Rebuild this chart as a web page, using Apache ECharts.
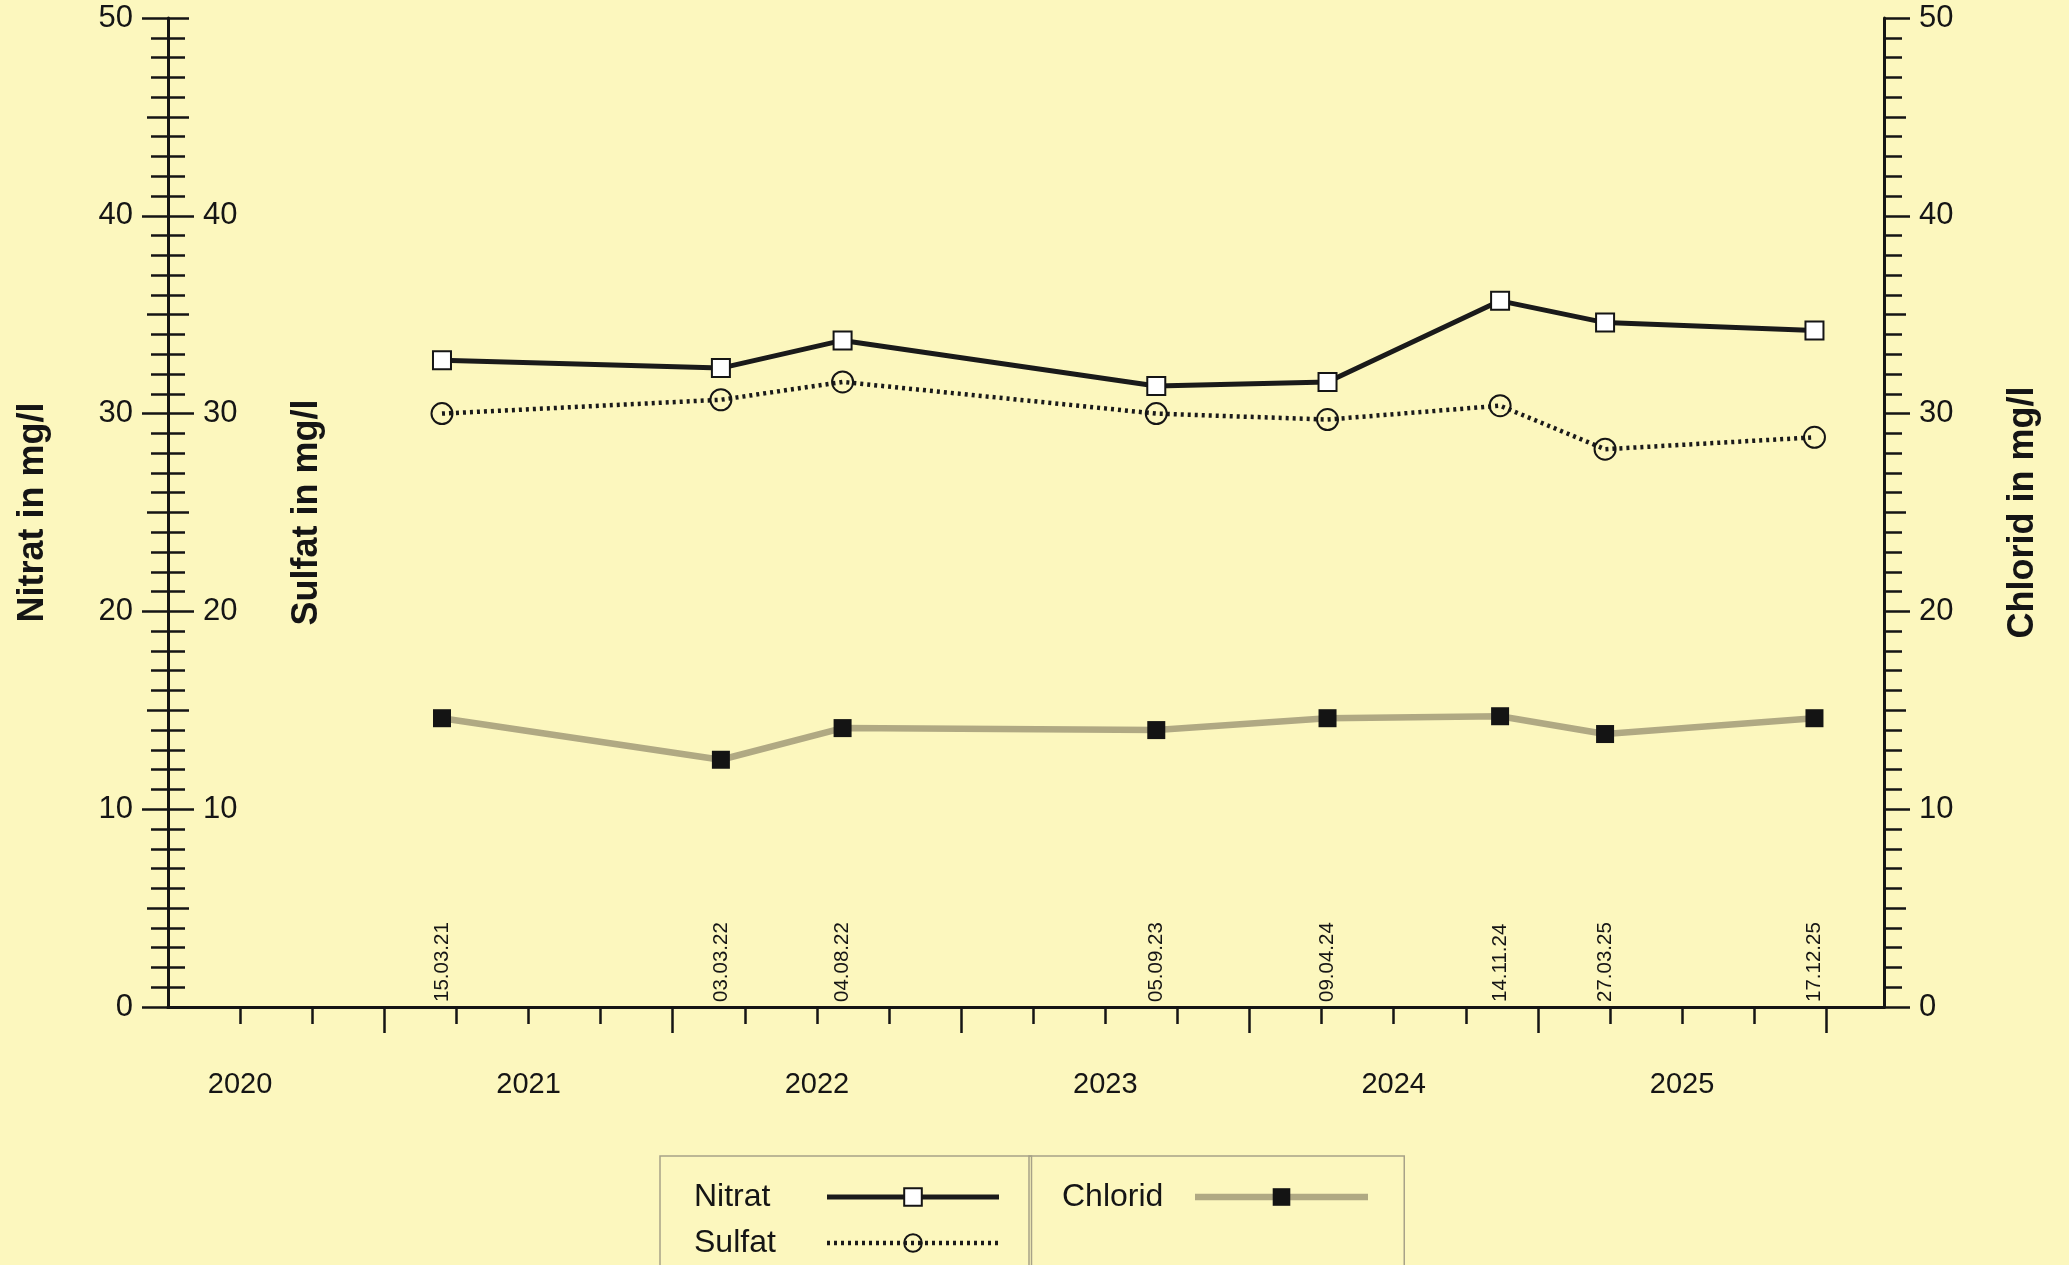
<!DOCTYPE html>
<html>
<head>
<meta charset="utf-8">
<title>Nitrat, Sulfat und Chlorid</title>
<script src="https://cdn.jsdelivr.net/npm/echarts@6/dist/echarts.min.js"></script>
<style>
  html, body { margin: 0; padding: 0; background: #fcf7be; }
  #chart { width: 2069px; height: 1265px; }
</style>
</head>
<body>
<div id="chart"></div>
<script>
// Probenahmetermine und Messwerte (mg/l)
const DATES   = ['15.03.21', '03.03.22', '04.08.22', '05.09.23', '09.04.24', '14.11.24', '27.03.25', '17.12.25'];
const NITRAT  = [32.7, 32.3, 33.7, 31.4, 31.6, 35.7, 34.6, 34.2];
const SULFAT  = [30.0, 30.7, 31.6, 30.0, 29.7, 30.4, 28.2, 28.8];
const CHLORID = [14.6, 12.5, 14.1, 14.0, 14.6, 14.7, 13.8, 14.6];

// Achsenbeschriftung
const YEARS = ['2020', '2021', '2022', '2023', '2024', '2025'];
const X_MIN = 2020.25;
const X_MAX = 2026.2;
const Y_MIN = 0;
const Y_MAX = 50;
const INNER_LABELS = [10, 20, 30, 40];

const FONT = "'Liberation Sans', Arial, Helvetica, sans-serif";
const INK = '#151515';

// Datum "TT.MM.JJ" -> Dezimaljahr
function toYear(s) {
  const [d, m, y] = s.split('.').map(Number);
  const year = 2000 + y;
  const t = Date.UTC(year, m - 1, d);
  const a = Date.UTC(year, 0, 1);
  const b = Date.UTC(year + 1, 0, 1);
  return year + (t - a) / (b - a);
}
const dateX = DATES.map(toYear);

const quarterTicks = [];
for (let q = 2020.5; q <= X_MAX + 1e-9; q += 0.25) quarterTicks.push(q);
const yearTicks = [];
for (let y = 2021; y <= X_MAX; y++) yearTicks.push(y);
const yearLabelPos = YEARS.map(y => Number(y) + 0.5);

const pairs = vals => vals.map((v, i) => [dateX[i], v]);

const tickLine = { color: INK, width: 2.5 };
const axisLine = { show: true, lineStyle: { color: INK, width: 3 } };
const hidden = { show: false };

const yBase = { type: 'value', min: Y_MIN, max: Y_MAX, splitLine: hidden, nameMoveOverlap: false };
const nameStyle = { fontSize: 36, fontWeight: 'bold', color: INK, fontFamily: FONT };
const labelStyle = { fontSize: 31, color: INK, fontFamily: FONT };

const xBase = { type: 'value', min: X_MIN, max: X_MAX, splitLine: hidden, gridIndex: 0 };

const legendText = {
  color: INK, fontFamily: FONT, fontSize: 32,
  rich: { t: { width: 128, align: 'left', fontSize: 32, lineHeight: 34, fontFamily: FONT, color: INK } }
};
const legendBox = {
  orient: 'vertical', top: 1156, align: 'right',
  itemHeight: 22, itemGap: 14,
  borderColor: '#a7a288', borderWidth: 1.5,
  selectedMode: false,
  formatter: '{t|{name}}',
  textStyle: legendText,
  lineStyle: { width: 'inherit', type: 'inherit', color: 'inherit' }
};

const chart = echarts.init(document.getElementById('chart'), null, { renderer: 'canvas' });

chart.setOption({
  animation: false,
  backgroundColor: '#fcf7be',
  textStyle: { fontFamily: FONT, color: INK },
  grid: { left: 168, right: 185, top: 18, bottom: 258, outerBoundsMode: 'none', containLabel: false },
  xAxis: [
    // Zeitachse mit Quartalsstrichen und Jahreszahlen
    Object.assign({}, xBase, {
      position: 'bottom', offset: 0,
      axisLine: axisLine,
      axisTick: { show: true, length: 17, lineStyle: tickLine, customValues: quarterTicks },
      axisLabel: {
        show: true, margin: 63, fontSize: 29, color: INK, fontFamily: FONT,
        customValues: yearLabelPos,
        formatter: v => String(Math.floor(v + 1e-6))
      }
    }),
    // Jahresgrenzen (lange Striche)
    Object.assign({}, xBase, {
      position: 'bottom', offset: 0,
      axisLine: hidden,
      axisTick: { show: true, length: 26, lineStyle: tickLine, customValues: yearTicks },
      axisLabel: hidden
    }),
    // obere Rahmenlinie
    Object.assign({}, xBase, {
      position: 'top', offset: 0,
      axisLine: axisLine, axisTick: hidden, axisLabel: hidden
    }),
    // Probenahmedaten, senkrecht über der Achse
    Object.assign({}, xBase, {
      position: 'bottom', offset: 0,
      axisLine: hidden, axisTick: hidden,
      axisLabel: {
        show: true, inside: true, rotate: 90, margin: 5,
        fontSize: 20.5, color: INK, fontFamily: FONT,
        customValues: dateX,
        formatter: v => {
          const i = dateX.findIndex(x => Math.abs(x - v) < 1e-6);
          return i >= 0 ? DATES[i] : '';
        }
      }
    })
  ],
  yAxis: [
    // Nitrat (links außen)
    Object.assign({}, yBase, {
      position: 'left', offset: 0, interval: 10,
      axisLine: axisLine,
      axisTick: { show: true, length: 26, lineStyle: tickLine },
      axisLabel: Object.assign({ margin: 35 }, labelStyle),
      name: 'Nitrat in mg/l', nameLocation: 'middle', nameRotate: 90, nameGap: 117,
      nameTextStyle: nameStyle
    }),
    // Sulfat (links, Beschriftung innen)
    Object.assign({}, yBase, {
      position: 'left', offset: 0, interval: 10,
      axisLine: hidden,
      axisTick: { show: true, inside: true, length: 26, lineStyle: tickLine, customValues: INNER_LABELS },
      axisLabel: Object.assign({ inside: true, margin: 35, customValues: INNER_LABELS }, labelStyle),
      name: 'Sulfat in mg/l', nameLocation: 'middle', nameRotate: 90, nameGap: -157,
      nameTextStyle: nameStyle
    }),
    // Zwischenstriche links außen
    Object.assign({}, yBase, {
      position: 'left', offset: 0, interval: 5,
      axisLine: hidden, axisLabel: hidden,
      axisTick: { show: true, length: 21, lineStyle: tickLine },
      minorTick: { show: true, splitNumber: 5, length: 17, lineStyle: tickLine }
    }),
    // Zwischenstriche links innen
    Object.assign({}, yBase, {
      position: 'left', offset: 0, interval: 5,
      axisLine: hidden, axisLabel: hidden,
      axisTick: { show: true, inside: true, length: 21, lineStyle: tickLine },
      minorTick: { show: true, splitNumber: 5, length: 17, lineStyle: tickLine }
    }),
    // Chlorid (rechts)
    Object.assign({}, yBase, {
      position: 'right', offset: 0, interval: 10,
      axisLine: axisLine,
      axisTick: { show: true, length: 26, lineStyle: tickLine },
      axisLabel: Object.assign({ margin: 35 }, labelStyle),
      name: 'Chlorid in mg/l', nameLocation: 'middle', nameRotate: 90, nameGap: 121,
      nameTextStyle: nameStyle
    }),
    // Zwischenstriche rechts
    Object.assign({}, yBase, {
      position: 'right', offset: 0, interval: 5,
      axisLine: hidden, axisLabel: hidden,
      axisTick: { show: true, length: 22, lineStyle: tickLine },
      minorTick: { show: true, splitNumber: 5, length: 18, lineStyle: tickLine }
    })
  ],
  legend: [
    Object.assign({}, legendBox, {
      data: ['Nitrat', 'Sulfat'],
      left: 660, height: 200,
      itemWidth: 172,
      padding: [25, 30, 90, 34]
    }),
    Object.assign({}, legendBox, {
      data: ['Chlorid'],
      left: 1029, height: 200,
      itemWidth: 173,
      padding: [25, 33, 150, 33]
    })
  ],
  series: [
    {
      name: 'Chlorid', type: 'line', xAxisIndex: 0, yAxisIndex: 4,
      data: pairs(CHLORID),
      symbol: 'rect', symbolSize: 18,
      itemStyle: { color: '#141414' },
      lineStyle: { color: '#b0a983', width: 6.5 },
      z: 2
    },
    {
      name: 'Nitrat', type: 'line', xAxisIndex: 0, yAxisIndex: 0,
      data: pairs(NITRAT),
      symbol: 'rect', symbolSize: 18,
      itemStyle: { color: '#ffffff', borderColor: INK, borderWidth: 2 },
      lineStyle: { color: '#1a1a1a', width: 5 },
      z: 3
    },
    {
      name: 'Sulfat', type: 'line', xAxisIndex: 0, yAxisIndex: 1,
      data: pairs(SULFAT),
      symbol: 'circle', symbolSize: 21,
      itemStyle: { color: 'rgba(0,0,0,0)', borderColor: INK, borderWidth: 2 },
      lineStyle: { color: '#1a1a1a', width: 4.5, type: [3, 4] },
      z: 3
    }
  ]
});
</script>
</body>
</html>
